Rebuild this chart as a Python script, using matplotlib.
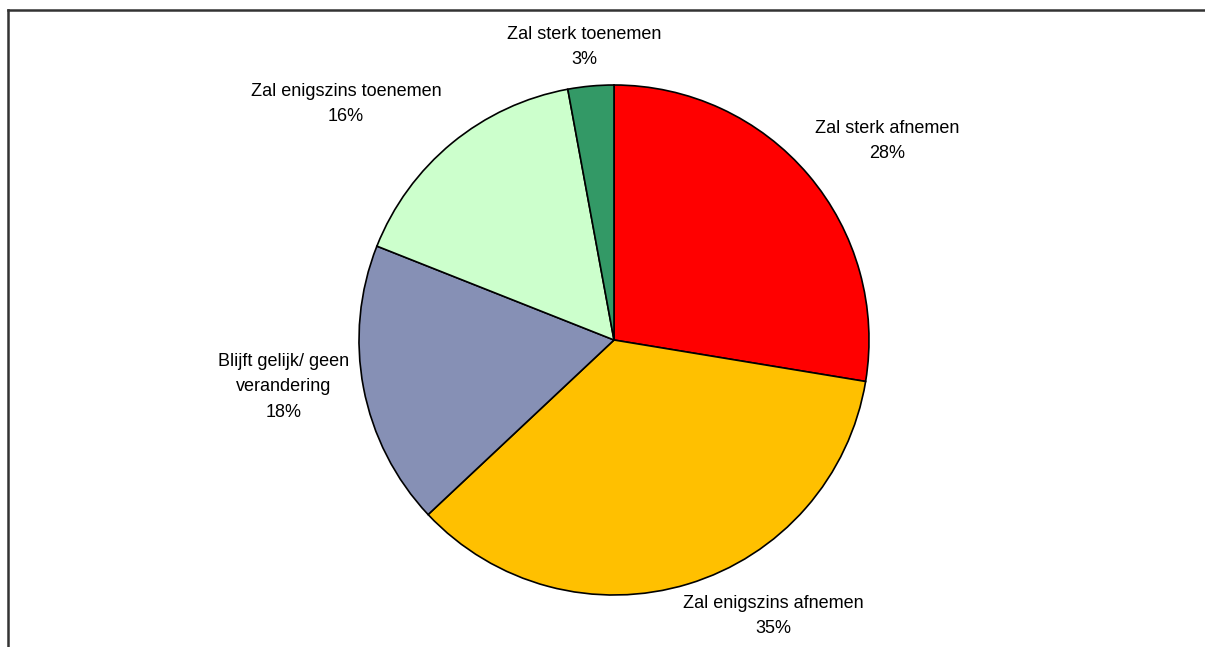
import matplotlib
matplotlib.use("Agg")
import matplotlib.pyplot as plt
from matplotlib.lines import Line2D

plt.rcParams["font.family"] = ["Liberation Sans", "DejaVu Sans"]

# data (percent, clockwise from 12 o'clock)
labels = ["Zal sterk afnemen", "Zal enigszins afnemen", "Blijft gelijk/ geen\nverandering",
          "Zal enigszins toenemen", "Zal sterk toenemen"]
values = [27.6, 35.4, 18.0, 16.1, 2.9]
colors = ["#FF0000", "#FFC000", "#8690B5", "#CCFFCC", "#339966"]

# label positions (data units, pie radius = 1)
label_pos = [(1.07, 0.78), (0.625, -1.082), (-1.294, -0.184), (-1.051, 0.925), (-0.118, 1.149)]

W, H = 1205, 647
cx, cy, R = 614, 340, 255

fig = plt.figure(figsize=(W / 100, H / 100), dpi=100)
ax = fig.add_axes([0, 0, 1, 1])
ax.pie(values, colors=colors, startangle=90, counterclock=False, radius=1,
       wedgeprops=dict(edgecolor="black", linewidth=1.2))
ax.set_xlim(-cx / R, (W - cx) / R)
ax.set_ylim(-(H - cy) / R, cy / R)
ax.set_aspect("auto")
ax.axis("off")

for lab, v, (x, y) in zip(labels, values, label_pos):
    ax.text(x, y, f"{lab}\n{v:.0f}%", ha="center", va="center",
            fontsize=13, linespacing=1.65)

# frame lines (top and left)
fig.add_artist(Line2D([8 / W, 1], [1 - 10 / H, 1 - 10 / H], color="#333333", lw=1.8,
                      transform=fig.transFigure))
fig.add_artist(Line2D([8 / W, 8 / W], [0, 1 - 10 / H], color="#333333", lw=1.8,
                      transform=fig.transFigure))

fig.savefig("out.png", dpi=100)
